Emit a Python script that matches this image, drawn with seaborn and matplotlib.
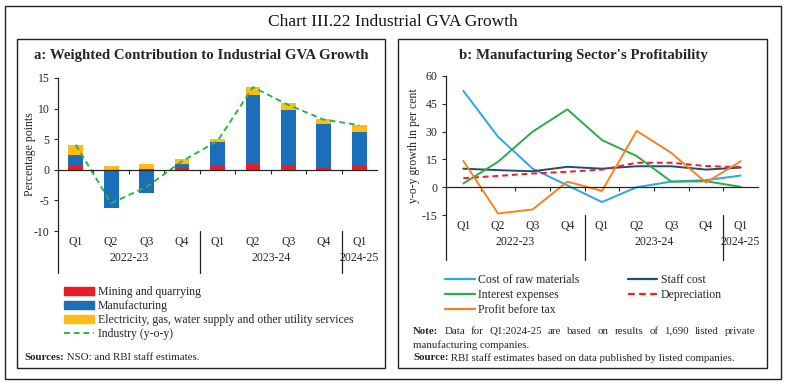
import numpy as np
import pandas as pd
import matplotlib
matplotlib.use("Agg")
import matplotlib.pyplot as plt
import seaborn as sns
from matplotlib.patches import Rectangle, Patch
from matplotlib.lines import Line2D

# ---------------- data ----------------
quarters = ["Q1", "Q2", "Q3", "Q4", "Q1", "Q2", "Q3", "Q4", "Q1"]
years = ["2022-23", "2023-24", "2024-25"]
year_span = [4, 4, 1]

mining = [0.65, -0.2, 0.15, 0.4, 0.75, 0.95, 0.8, 0.5, 0.8]
manufacturing = [1.7, -6.0, -3.8, 0.6, 3.85, 11.35, 9.0, 7.0, 5.4]
electricity = [1.65, 0.7, 0.85, 0.75, 0.4, 1.3, 1.05, 0.8, 1.2]
industry = [4.1, -5.45, -2.8, 1.4, 4.7, 13.5, 10.6, 8.2, 7.3]

raw_materials = [52.0, 27.2, 10.0, 1.0, -8.0, 0.0, 3.0, 3.8, 6.3]
staff_cost = [10.0, 9.2, 8.6, 11.0, 10.0, 11.3, 11.3, 9.5, 10.6]
interest = [2.0, 13.7, 30.0, 42.0, 25.4, 16.8, 3.0, 3.2, 0.2]
depreciation = [4.9, 6.1, 7.4, 8.3, 9.5, 13.2, 13.2, 11.4, 10.8]
profit = [14.2, -14.2, -12.0, 3.0, -2.0, 30.4, 18.5, 2.5, 14.0]

# ---------------- style ----------------
sns.set_theme(style="white")
plt.rcParams["font.family"] = ["Liberation Serif", "DejaVu Serif"]
plt.rcParams["axes.linewidth"] = 0.9

W, H = 785, 385
fig = plt.figure(figsize=(W / 100, H / 100), dpi=100)
fig.patch.set_facecolor("white")

def fx(p):
    return p / W

def fy(p):
    return 1 - p / H

def add_box(x0, y0, x1, y1, lw=1.0):
    fig.patches.append(Rectangle((fx(x0), fy(y1)), fx(x1) - fx(x0), fy(y0) - fy(y1),
                                 transform=fig.transFigure, fill=False,
                                 edgecolor="#222222", linewidth=lw))

add_box(5, 6, 781, 379, lw=1.0)
add_box(17, 39, 385, 368, lw=1.0)
add_box(398, 39, 767, 368, lw=1.0)

fig.text(fx(393), fy(22), "Chart III.22 Industrial GVA Growth", ha="center", va="center",
         fontsize=12.5, color="#111111")

C_MIN = "#ED1C24"
C_MAN = "#1B6FBA"
C_ELE = "#FDBD14"
C_IND = "#2DB34A"

keys = [f"{q} {i}" for i, q in enumerate(quarters)]
n = len(keys)
pos = np.arange(n)

def setup_axes(ax, ymin, ymax, yticks, x_sep, ext_px):
    ax.set_facecolor("none")
    ax.set_xlim(-0.5, n - 0.5)
    ax.set_ylim(ymin, ymax)
    ax.set_yticks(yticks)
    ax.set_yticklabels([str(t) for t in yticks], fontsize=8.5)
    for s in ["top", "right"]:
        ax.spines[s].set_visible(False)
    ax.spines["bottom"].set_position(("data", 0))
    ax.spines["bottom"].set_bounds(-0.5, n - 0.5)
    ax.set_xticks(np.arange(n - 1) + 0.5)
    ax.set_xticklabels([])
    ax.tick_params(axis="x", direction="out", length=3, width=0.8, bottom=True, pad=0)
    ax.tick_params(axis="y", direction="out", length=3, width=0.8, left=True, pad=3)
    ax.set_xlabel("")
    bb = ax.get_position()
    h_px = bb.height * H
    ext = ext_px / h_px
    ax.plot([0, 0], [0, -ext], transform=ax.transAxes, color="#222222", lw=0.9, clip_on=False)
    for sx in x_sep:
        ax.plot([sx, sx], [ymin, ymin - (ymax - ymin) * ext], color="#222222", lw=0.9, clip_on=False)
    yq = ymin - (ymax - ymin) * (11 / h_px)
    yy = ymin - (ymax - ymin) * (27 / h_px)
    for i, q in enumerate(quarters):
        ax.text(i, yq, q, ha="center", va="center", fontsize=8.5)
    start = 0
    for yname, span in zip(years, year_span):
        ax.text(start + (span - 1) / 2, yy, yname, ha="center", va="center", fontsize=8.5)
        start += span

# ---------------- panel a ----------------
axa = fig.add_axes([fx(58), fy(231), fx(377) - fx(58), fy(78) - fy(231)])
df = pd.DataFrame({"key": keys, "mining": mining, "manufacturing": manufacturing,
                   "electricity": electricity, "industry": industry})
m = np.array(mining); mf = np.array(manufacturing); e = np.array(electricity)
p1 = np.maximum(m, 0); p2 = p1 + np.maximum(mf, 0); p3 = p2 + np.maximum(e, 0)
n1 = np.minimum(m, 0); n2 = n1 + np.minimum(mf, 0); n3 = n2 + np.minimum(e, 0)
for vals, col in [(p3, C_ELE), (p2, C_MAN), (p1, C_MIN), (n3, C_ELE), (n2, C_MAN), (n1, C_MIN)]:
    sns.barplot(x=df["key"], y=vals, order=keys, color=col, saturation=1, width=0.42,
                linewidth=0, ax=axa)
sns.lineplot(x=pos, y=df["industry"], ax=axa, color=C_IND, lw=1.4, linestyle=(0, (3, 2)))
setup_axes(axa, -10, 15, [-10, -5, 0, 5, 10, 15], [3.5, 7.5], 42)
axa.set_ylabel("Percentage points", fontsize=8.5)
axa.yaxis.set_label_coords((36 - 58) / 319, 0.5)
fig.text(fx(201), fy(55), "a: Weighted Contribution to Industrial GVA Growth",
         ha="center", va="center", fontsize=10.7, fontweight="bold")

handles_a = [Patch(color=C_MIN), Patch(color=C_MAN), Patch(color=C_ELE),
             Line2D([], [], color=C_IND, lw=1.4, linestyle=(0, (3, 2)))]
labels_a = ["Mining and quarrying", "Manufacturing",
            "Electricity, gas, water supply and other utility services", "Industry (y-o-y)"]
fig.legend(handles_a, labels_a, loc="upper left", bbox_to_anchor=(fx(64), fy(286)),
           frameon=False, fontsize=8.5, handlelength=2.5, handleheight=0.6,
           handletextpad=0.35, labelspacing=0.18, borderpad=0, borderaxespad=0)

# ---------------- panel b ----------------
axb = fig.add_axes([fx(446), fy(215), fx(758) - fx(446), fy(76) - fy(215)])
C_RAW = "#2AA8E0"
C_STF = "#1D4F6E"
C_INT = "#2EAA4A"
C_DEP = "#EE1C25"
C_PRF = "#F58322"
series_b = [("Cost of raw materials", raw_materials, C_RAW, "-"),
            ("Staff cost", staff_cost, C_STF, "-"),
            ("Interest expenses", interest, C_INT, "-"),
            ("Depreciation", depreciation, C_DEP, (0, (3, 2))),
            ("Profit before tax", profit, C_PRF, "-")]
for name, vals, col, ls in series_b:
    sns.lineplot(x=pos, y=vals, ax=axb, color=col, lw=1.4, linestyle=ls)
setup_axes(axb, -15, 60, [-15, 0, 15, 30, 45, 60], [3.5, 7.5], 45)
axb.set_ylabel("y-o-y growth in per cent", fontsize=8.5)
axb.yaxis.set_label_coords((420 - 446) / 312, 0.5)
fig.text(fx(583), fy(56), "b: Manufacturing Sector's Profitability", ha="center", va="center",
         fontsize=10.7, fontweight="bold")

lk = {nm: (col, ls) for nm, _, col, ls in series_b}
order_b = ["Cost of raw materials", "Interest expenses", "Profit before tax", "Staff cost", "Depreciation"]
handles_b = [Line2D([], [], color=lk[o][0], lw=1.6, linestyle=lk[o][1]) for o in order_b]
fig.legend(handles_b, order_b, loc="upper left", bbox_to_anchor=(fx(445), fy(274)), ncol=2,
           frameon=False, fontsize=8.5, handlelength=2.5, handletextpad=0.3,
           labelspacing=0.25, columnspacing=4.1, borderpad=0, borderaxespad=0)

# ---------------- notes ----------------
renderer = fig.canvas.get_renderer()

def measure(txt, bold, fs):
    t = fig.text(0, 0, txt, fontsize=fs, fontweight="bold" if bold else "normal")
    w = t.get_window_extent(renderer=renderer).width
    t.remove()
    return w

def rich(x, y, parts, fs=7.8):
    cx = x
    for txt, bold in parts:
        fig.text(fx(cx), fy(y), txt, ha="left", va="center", fontsize=fs,
                 fontweight="bold" if bold else "normal")
        cx += measure(txt, bold, fs)

def justify(x0, x1, y, words, fs=7.8):
    widths = [sum(measure(t, b, fs) for t, b in w) for w in words]
    gap = (x1 - x0 - sum(widths)) / (len(words) - 1)
    cx = x0
    for w, wd in zip(words, widths):
        rich(cx, y, w, fs)
        cx += wd + gap

rich(24, 357, [("Sources:", True), (" NSO: and RBI staff estimates.", False)])
note_words = [[("Note:", True)]] + [[(w, False)] for w in
              "Data for Q1:2024-25 are based on results of 1,690 listed private".split()]
justify(413, 755, 331, note_words)
rich(413, 345, [("manufacturing companies.", False)])
rich(413, 358, [("Source:", True), (" RBI staff estimates based on data published by listed companies.", False)])

fig.savefig("out.png", dpi=100, facecolor="white")
